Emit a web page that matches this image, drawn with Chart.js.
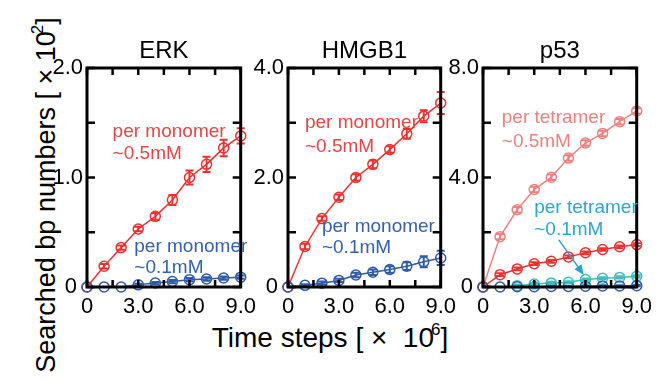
<!DOCTYPE html>
<html lang="en">
<head>
<meta charset="UTF-8">
<title>Searched bp numbers</title>
<script src="https://cdn.jsdelivr.net/npm/chart.js"></script>
<style>
  html, body { margin: 0; padding: 0; background: #fff; }
  body { width: 661px; height: 382px; position: relative; overflow: hidden; font-family: "Liberation Sans", Arial, sans-serif; }
  canvas { position: absolute; top: 20px; }
  .ylab { position: absolute; left: -162px; top: 178px; width: 400px; height: 34px; line-height: 34px;
          text-align: center; font-size: 27px; color: #000; transform: rotate(-90deg); white-space: nowrap; }
  .xlab { position: absolute; left: 145px; top: 320px; width: 370px; text-align: center; font-size: 28px; color: #000; white-space: pre; }
  sup { font-size: 17px; vertical-align: 12px; margin-left: -3px; }
</style>
</head>
<body>

<div class="ylab">Searched bp numbers [ × 10<sup>2</sup>]</div>
<div class="xlab">Time steps [ ×  10<sup>6</sup>]</div>

<canvas id="erk" width="226" height="300" style="left:37px"></canvas>
<canvas id="hmgb1" width="225" height="300" style="left:238px"></canvas>
<canvas id="p53" width="226" height="300" style="left:433px"></canvas>

<script>
// time steps (x 10^6)
const steps = [0, 1, 2, 3, 4, 5, 6, 7, 8, 9];

// ERK, per monomer
const erkHigh    = [0, 0.19, 0.36, 0.53, 0.645, 0.795, 1.0, 1.12, 1.27, 1.38];
const erkHighErr = [0, 0.02, 0.02, 0.02, 0.03, 0.045, 0.065, 0.07, 0.075, 0.07];
const erkLow     = [0, 0, 0, 0.02, 0.036, 0.05, 0.067, 0.073, 0.082, 0.09];
const erkLowErr  = [0, 0, 0, 0.01, 0.01, 0.015, 0.015, 0.015, 0.015, 0.015];

// HMGB1, per monomer
const hmgHigh    = [0, 0.74, 1.25, 1.64, 2.0, 2.24, 2.51, 2.8, 3.12, 3.36];
const hmgHighErr = [0, 0.05, 0.04, 0.05, 0.06, 0.07, 0.06, 0.09, 0.11, 0.2];
const hmgLow     = [0, 0.03, 0.07, 0.12, 0.22, 0.27, 0.32, 0.38, 0.46, 0.53];
const hmgLowErr  = [0, 0.02, 0.03, 0.03, 0.04, 0.05, 0.06, 0.07, 0.1, 0.13];

// p53
const p53TetHigh    = [0, 1.84, 2.82, 3.56, 4.01, 4.71, 5.26, 5.61, 6.04, 6.43];
const p53TetHighErr = [0, 0.1, 0.1, 0.1, 0.1, 0.1, 0.1, 0.1, 0.1, 0.1];
const p53MonHigh    = [0, 0.45, 0.66, 0.85, 0.94, 1.10, 1.25, 1.37, 1.47, 1.55];
const p53MonHighErr = [0, 0.05, 0.05, 0.05, 0.05, 0.05, 0.05, 0.05, 0.05, 0.05];
const p53TetLow     = [null, null, 0.05, 0.11, 0.15, 0.17, 0.27, 0.32, 0.35, 0.39];
const p53TetLowErr  = [0, 0, 0.04, 0.04, 0.04, 0.04, 0.04, 0.04, 0.04, 0.04];
const p53MonLow     = [0, 0, 0.01, 0.01, 0.02, 0.02, 0.03, 0.04, 0.04, 0.05];
const p53MonLowErr  = [0, 0, 0.02, 0.02, 0.02, 0.02, 0.02, 0.02, 0.02, 0.02];

const RED = '#ee3030', BLUE = '#2f5aa8', PINK = '#f08080', CYAN = '#3dbdbd';

// frame, inward ticks, error bars, titles and notes
const panelDeco = {
    id: 'panelDeco',
    afterDatasetsDraw(chart) {
        const ctx = chart.ctx;
        const xs = chart.scales.x, ys = chart.scales.y;
        ctx.save();
        chart.data.datasets.forEach(ds => {
            if (!ds.err) return;
            ctx.strokeStyle = ds.borderColor;
            ctx.lineWidth = 2;
            ds.data.forEach((v, i) => {
                const e = ds.err[i];
                if (v == null || !e) return;
                const px = xs.getPixelForValue(steps[i]);
                const top = ys.getPixelForValue(v + e), bot = ys.getPixelForValue(v - e);
                ctx.beginPath();
                ctx.moveTo(px, top); ctx.lineTo(px, bot);
                ctx.moveTo(px - 4, top); ctx.lineTo(px + 4, top);
                ctx.moveTo(px - 4, bot); ctx.lineTo(px + 4, bot);
                ctx.stroke();
            });
        });
        ctx.restore();
    },
    afterDraw(chart, args, opts) {
        const ctx = chart.ctx;
        const a = chart.chartArea;
        const xs = chart.scales.x, ys = chart.scales.y;
        ctx.save();
        ctx.strokeStyle = '#000';
        ctx.lineWidth = 3;
        ctx.strokeRect(a.left, a.top, a.right - a.left, a.bottom - a.top);
        ctx.lineWidth = 2.5;
        ctx.beginPath();
        xs.ticks.forEach(t => {
            const px = xs.getPixelForValue(t.value);
            ctx.moveTo(px, a.bottom); ctx.lineTo(px, a.bottom - 7);
            ctx.moveTo(px, a.top); ctx.lineTo(px, a.top + 7);
        });
        ys.ticks.forEach(t => {
            const py = ys.getPixelForValue(t.value);
            ctx.moveTo(a.left, py); ctx.lineTo(a.left + 8, py);
            ctx.moveTo(a.right, py); ctx.lineTo(a.right - 8, py);
        });
        ctx.stroke();

        ctx.fillStyle = '#000';
        ctx.font = '24px "Liberation Sans", Arial, sans-serif';
        ctx.textAlign = 'center';
        ctx.textBaseline = 'middle';
        ctx.fillText(opts.title, (a.left + a.right) / 2, a.top - 17);

        ctx.font = '19px "Liberation Sans", Arial, sans-serif';
        ctx.textAlign = 'left';
        opts.notes.forEach(n => {
            ctx.fillStyle = n.color;
            const px = xs.getPixelForValue(n.x);
            n.lines.forEach((s, k) => ctx.fillText(s, px, ys.getPixelForValue(n.y[k])));
        });
        if (opts.arrow) {
            const r = opts.arrow;
            const x0 = xs.getPixelForValue(r.from[0]), y0 = ys.getPixelForValue(r.from[1]);
            const x1 = xs.getPixelForValue(r.to[0]), y1 = ys.getPixelForValue(r.to[1]);
            const ang = Math.atan2(y1 - y0, x1 - x0);
            ctx.strokeStyle = r.color; ctx.fillStyle = r.color;
            ctx.lineWidth = 1.5;
            ctx.beginPath(); ctx.moveTo(x0, y0);
            ctx.lineTo(x1 - 8 * Math.cos(ang), y1 - 8 * Math.sin(ang)); ctx.stroke();
            ctx.beginPath();
            ctx.moveTo(x1, y1);
            ctx.lineTo(x1 - 11 * Math.cos(ang - 0.4), y1 - 11 * Math.sin(ang - 0.4));
            ctx.lineTo(x1 - 11 * Math.cos(ang + 0.4), y1 - 11 * Math.sin(ang + 0.4));
            ctx.closePath(); ctx.fill();
        }
        ctx.restore();
    }
};

// lower order is drawn on top
function series(values, err, color, order) {
    return {
        data: values, err: err, order: order,
        borderColor: color, backgroundColor: 'rgba(255,255,255,0)',
        borderWidth: 1.5, pointRadius: 5, pointBorderWidth: 1.5,
        pointBackgroundColor: 'rgba(255,255,255,0)', pointBorderColor: color,
        tension: 0, clip: false, spanGaps: false
    };
}

function makePanel(id, title, yMax, datasets, notes, arrow) {
    const yStep = yMax / 4;
    new Chart(document.getElementById(id), {
        type: 'line',
        data: { labels: steps, datasets: datasets },
        options: {
            responsive: false,
            animation: false,
            layout: { padding: { left: 0, right: 20, top: 48, bottom: 0 } },
            plugins: {
                legend: { display: false },
                tooltip: { enabled: false },
                panelDeco: { title: title, notes: notes, arrow: arrow }
            },
            scales: {
                x: {
                    type: 'linear', min: 0, max: 9,
                    grid: { display: false, drawTicks: false, tickLength: 0 }, border: { display: false },
                    afterFit: s => { s.height = 33; },
                    ticks: {
                        stepSize: 1.5, autoSkip: false, maxRotation: 0, padding: 7,
                        color: '#000', font: { size: 22, family: '"Liberation Sans", Arial, sans-serif' },
                        callback: v => v % 3 === 0 ? (v === 0 ? '0' : v.toFixed(1)) : ''
                    }
                },
                y: {
                    min: 0, max: yMax,
                    grid: { display: false, drawTicks: false, tickLength: 0 }, border: { display: false },
                    afterFit: s => { s.width = 50; },
                    ticks: {
                        stepSize: yStep, autoSkip: false, padding: 4,
                        color: '#000', font: { size: 22, family: '"Liberation Sans", Arial, sans-serif' },
                        callback: v => Math.abs(v % (yStep * 2)) < 1e-9 ? (v === 0 ? '0 ' : v.toFixed(1)) : ''
                    }
                }
            }
        },
        plugins: [panelDeco]
    });
}

makePanel('erk', 'ERK', 2.0,
    [series(erkHigh, erkHighErr, RED, 2), series(erkLow, erkLowErr, BLUE, 0)],
    [{ x: 1.5, y: [1.42, 1.22], lines: ['per monomer', '~0.5mM'], color: '#e84545' },
     { x: 2.77, y: [0.365, 0.18], lines: ['per monomer', '~0.1mM'], color: '#3560b0' }]);

makePanel('hmgb1', 'HMGB1', 4.0,
    [series(hmgHigh, hmgHighErr, RED, 2), series(hmgLow, hmgLowErr, BLUE, 0)],
    [{ x: 1.0, y: [3.0, 2.56], lines: ['per monomer', '~0.5mM'], color: '#e84545' },
     { x: 2.0, y: [1.10, 0.71], lines: ['per monomer', '~0.1mM'], color: '#3560b0' }]);

makePanel('p53', 'p53', 8.0,
    [series(p53TetHigh, p53TetHighErr, PINK, 3), series(p53MonHigh, p53MonHighErr, RED, 2),
     series(p53MonLow, p53MonLowErr, BLUE, 0), series(p53TetLow, p53TetLowErr, CYAN, 1)],
    [{ x: 1.1, y: [6.17, 5.29], lines: ['per tetramer', '~0.5mM'], color: PINK },
     { x: 3.0, y: [2.88, 2.08], lines: ['per tetramer', '~0.1mM'], color: '#2ba6d6' }],
    { from: [4.44, 1.72], to: [5.9, 0.44], color: '#2ba0d0' });
</script>
</body>
</html>
